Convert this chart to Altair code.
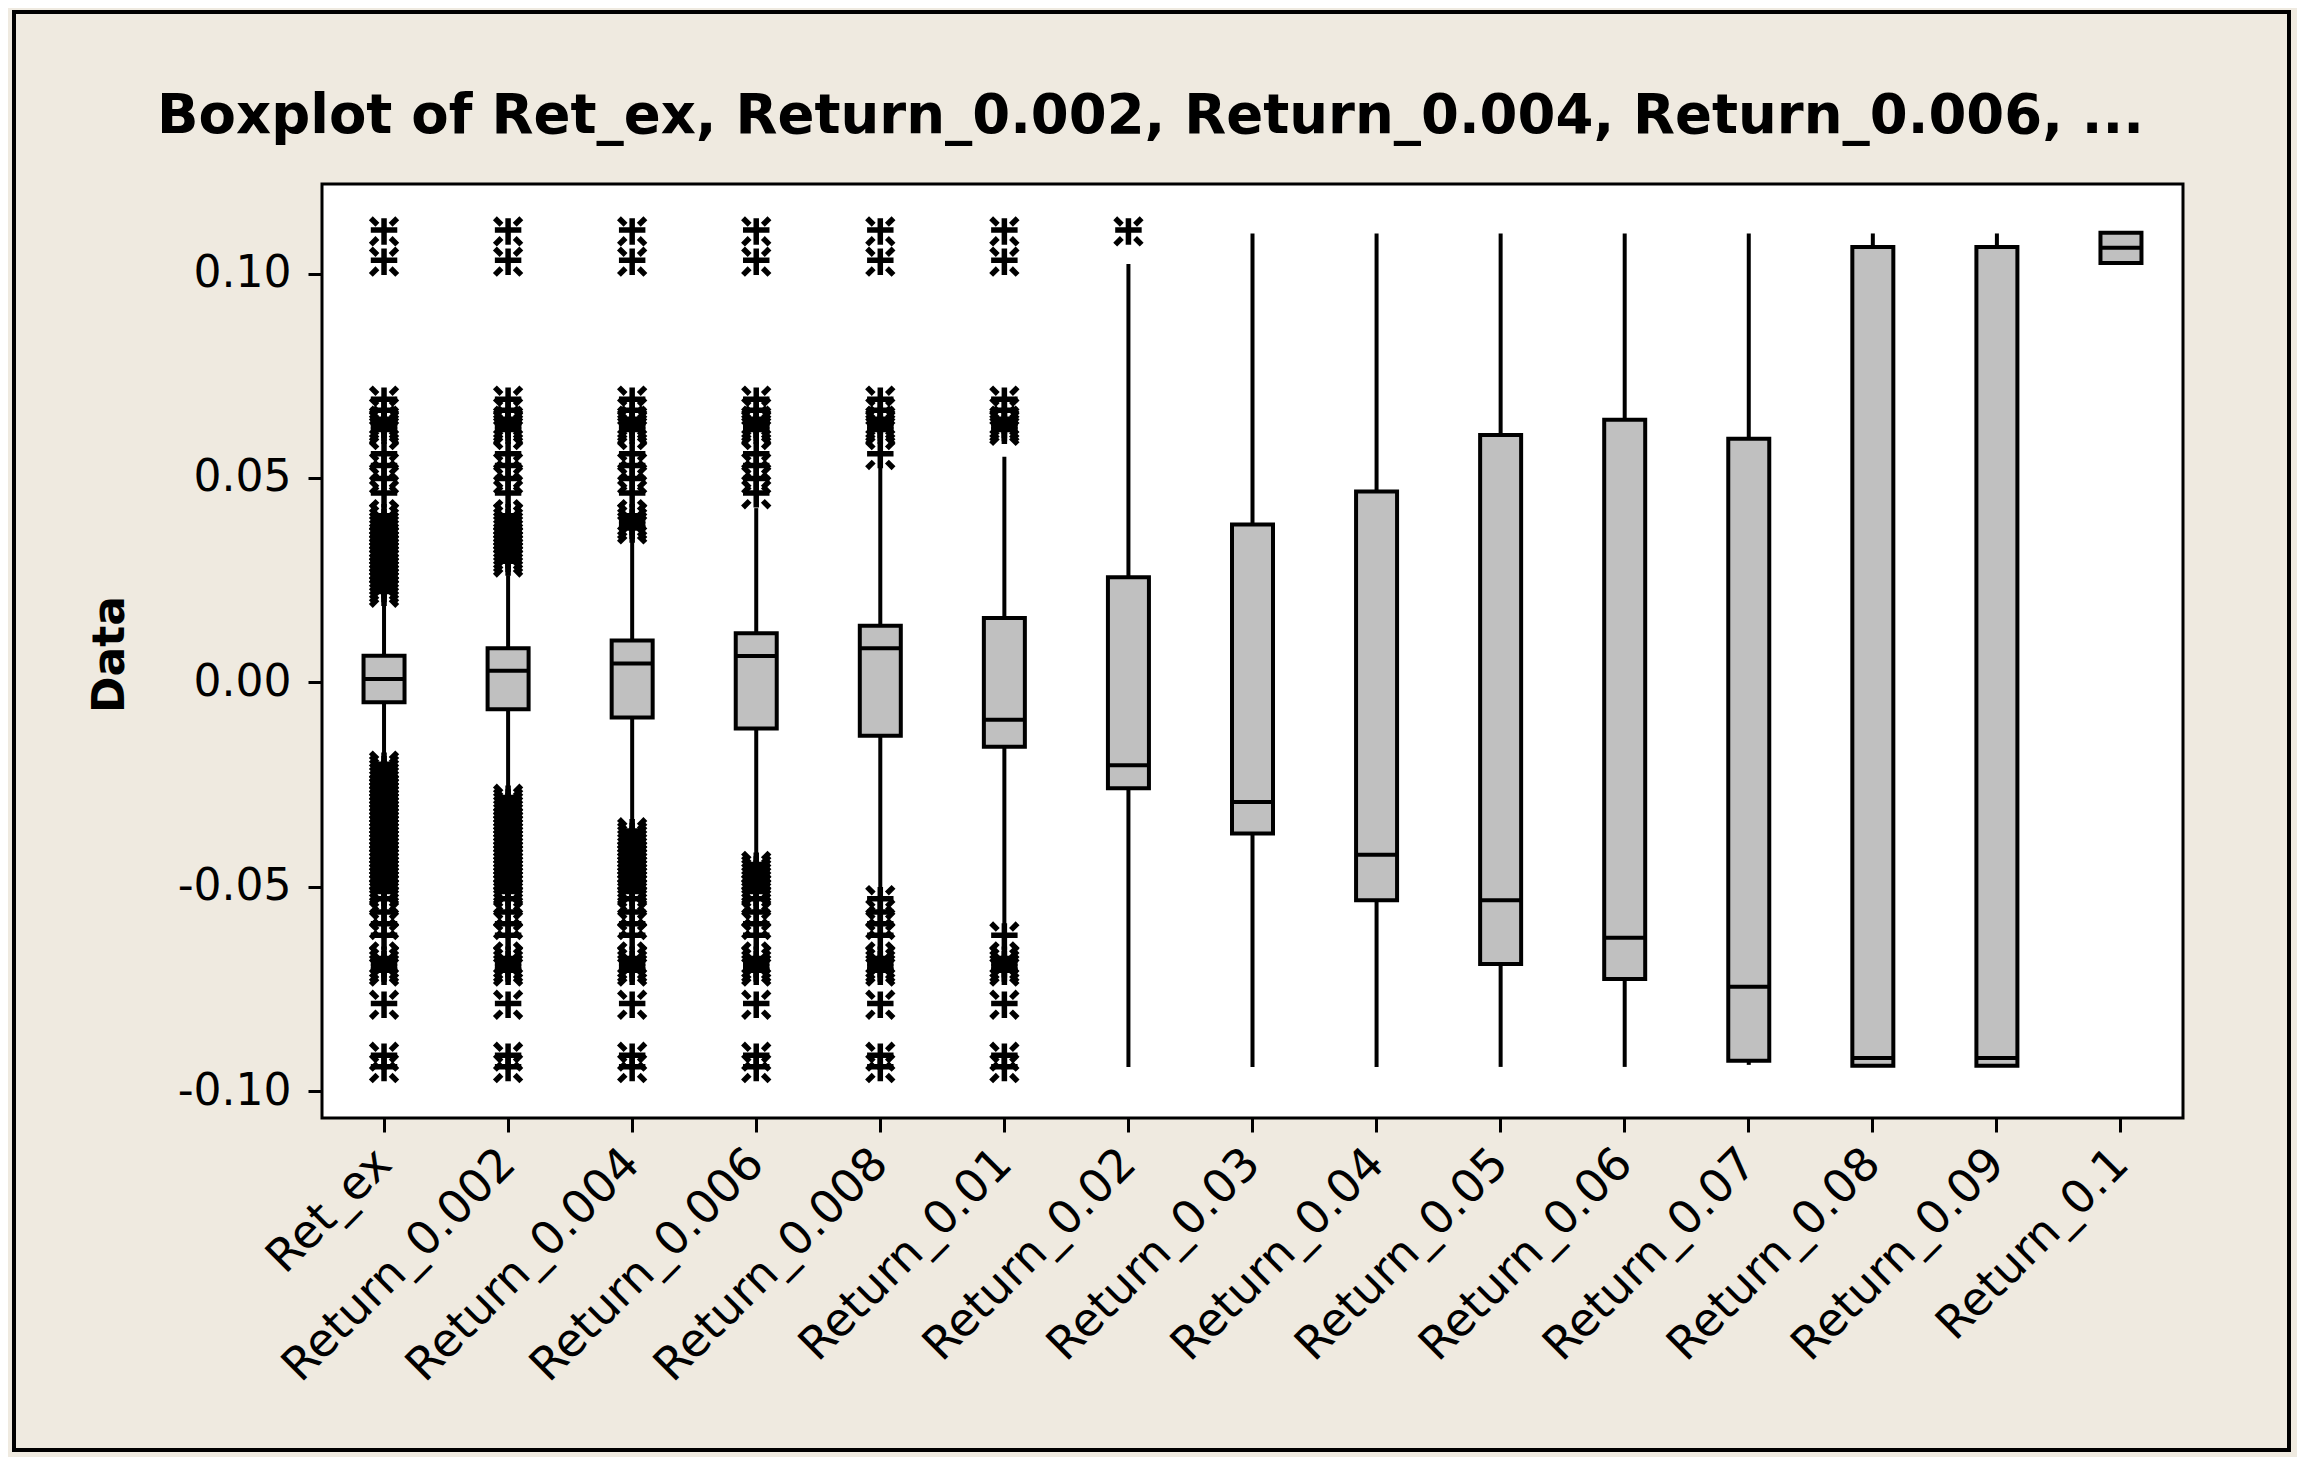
import altair as alt
import pandas as pd

# ---------------- data ----------------
series = ["Ret_ex", "Return_0.002", "Return_0.004", "Return_0.006", "Return_0.008",
          "Return_0.01", "Return_0.02", "Return_0.03", "Return_0.04", "Return_0.05",
          "Return_0.06", "Return_0.07", "Return_0.08", "Return_0.09", "Return_0.1"]
q1 = [-0.0049, -0.0066, -0.0086, -0.0113, -0.0131, -0.0158, -0.0259, -0.0370,
      -0.0533, -0.0689, -0.0726, -0.0926, -0.0938, -0.0938, 0.1026]
median = [0.0008, 0.0028, 0.0046, 0.0064, 0.0083, -0.0092, -0.0203, -0.0293,
          -0.0422, -0.0533, -0.0625, -0.0745, -0.0919, -0.0919, 0.1063]
q3 = [0.0065, 0.0083, 0.0102, 0.0120, 0.0138, 0.0157, 0.0257, 0.0386,
      0.0467, 0.0605, 0.0642, 0.0596, 0.1065, 0.1065, 0.1100]
whisker_lo = [-0.0174, -0.0255, -0.0337, -0.0418, -0.0504, -0.0594, -0.0941, -0.0941,
              -0.0941, -0.0941, -0.0941, -0.0936, -0.0938, -0.0938, 0.1026]
whisker_hi = [0.0193, 0.0262, 0.0348, 0.0426, 0.0527, 0.0552, 0.1023, 0.1098,
              0.1098, 0.1098, 0.1098, 0.1098, 0.1098, 0.1098, 0.1100]

# observed outlying values (asterisks) above / below the boxes
upper_tail = [0.0219, 0.0228, 0.0237, 0.0246, 0.0255, 0.0264, 0.0273, 0.0282, 0.0293,
              0.0302, 0.0311, 0.0320, 0.0329, 0.0338, 0.0347, 0.0356, 0.0365, 0.0374,
              0.0383, 0.0392, 0.0404, 0.0460, 0.0495, 0.0527, 0.0556, 0.0615, 0.0622,
              0.0630, 0.0640, 0.0662, 0.0689, 0.1029, 0.1103]
lower_tail = [-0.0204, -0.0213, -0.0222, -0.0231, -0.0240, -0.0249, -0.0258, -0.0267,
              -0.0276, -0.0285, -0.0294, -0.0303, -0.0312, -0.0321, -0.0330, -0.0339,
              -0.0348, -0.0357, -0.0367, -0.0376, -0.0385, -0.0394, -0.0403, -0.0412,
              -0.0421, -0.0430, -0.0439, -0.0449, -0.0458, -0.0467, -0.0476, -0.0485,
              -0.0494, -0.0503, -0.0515, -0.0533, -0.0565, -0.0594, -0.0622, -0.0679,
              -0.0690, -0.0700, -0.0708, -0.0789, -0.0916, -0.0944]
# first outlying value of each series (None = no outliers on that side)
upper_start = [0.0219, 0.0293, 0.0374, 0.0460, 0.0556, 0.0615, 0.1103,
               None, None, None, None, None, None, None, None]
lower_start = [-0.0204, -0.0285, -0.0367, -0.0449, -0.0533, -0.0622, None,
               None, None, None, None, None, None, None, None]

y_ticks = [0.10, 0.05, 0.00, -0.05, -0.10]
title_text = "Boxplot of Ret_ex, Return_0.002, Return_0.004, Return_0.006, ..."

# ---------------- tables ----------------
box_df = pd.DataFrame({"series": series, "q1": q1, "median": median, "q3": q3,
                       "lo": whisker_lo, "hi": whisker_hi})
rows = []
for s, us, ls in zip(series, upper_start, lower_start):
    if us is not None:
        rows += [{"series": s, "value": v} for v in upper_tail if v >= us]
    if ls is not None:
        rows += [{"series": s, "value": v} for v in lower_tail if v <= ls]
out_df = pd.DataFrame(rows)

# ---------------- styling ----------------
FONT = "DejaVu Sans"
BEIGE = "#EFEAE0"
W, H = 1861, 934
BOXW = 41
LW = 4

xscale = alt.Scale(type="band", domain=series, paddingInner=0, paddingOuter=0)
yscale = alt.Scale(domain=[-0.1066, 0.1219], nice=False, zero=False)

x_enc = alt.X("series:N", sort=series, scale=xscale,
              axis=alt.Axis(title=None, labelAngle=-45, labelAlign="right",
                            labelBaseline="middle", labelFont=FONT, labelFontSize=46,
                            labelColor="black", labelPadding=24, tickSize=14,
                            tickWidth=3, tickColor="black", domain=False,
                            labelOverlap=False, labelLimit=0, zindex=1))
y_axis = alt.Axis(values=y_ticks, title="Data", titleFont=FONT, titleFontSize=44,
                  titleFontWeight="bold", titleColor="black", titleAngle=-90,
                  titleX=-212, titleY=470, titleAlign="center", titleBaseline="middle",
                  labelExpr="replace(format(datum.value, '.2f'), '\u2212', '-')",
                  labelFont=FONT, labelFontSize=44, labelColor="black",
                  labelPadding=17, tickSize=14, tickWidth=3, tickColor="black",
                  grid=False, domain=False, zindex=1)

base = alt.Chart(box_df)

whisk_lo = base.mark_rule(color="black", strokeWidth=LW).encode(
    x=x_enc, y=alt.Y("lo:Q", scale=yscale, axis=y_axis), y2="q1:Q")
whisk_hi = base.mark_rule(color="black", strokeWidth=LW).encode(
    x=alt.X("series:N", sort=series, scale=xscale),
    y=alt.Y("q3:Q", scale=yscale), y2="hi:Q")
boxes = base.mark_bar(size=BOXW, fill="#C0C0C0", stroke="black", strokeWidth=LW).encode(
    x=alt.X("series:N", sort=series, scale=xscale),
    y=alt.Y("q1:Q", scale=yscale), y2="q3:Q")
medians = base.mark_tick(size=BOXW, thickness=LW, color="black", opacity=1).encode(
    x=alt.X("series:N", sort=series, scale=xscale),
    y=alt.Y("median:Q", scale=yscale))

star = ("M0,-1L0,1M-1,-0.1L1,-0.1M-1,-1L-0.5,-0.5M1,-1L0.5,-0.5"
        "M-1,1L-0.5,0.5M1,1L0.5,0.5")
outliers = alt.Chart(out_df).mark_point(shape=star, size=700, filled=False,
                                        stroke="black", strokeWidth=5.5,
                                        opacity=1).encode(
    x=alt.X("series:N", sort=series, scale=xscale),
    y=alt.Y("value:Q", scale=yscale))

frame = alt.Chart(alt.Data(values=[{"f": 1}])).mark_rect(
    fill=None, stroke="black", strokeWidth=4).encode(
    x=alt.value(-308), x2=alt.value(1967), y=alt.value(-172), y2=alt.value(1266))

chart = alt.layer(frame, whisk_lo, whisk_hi, boxes, medians, outliers).properties(
    width=W, height=H,
    title=alt.TitleParams(title_text, font=FONT, fontSize=54.5, fontWeight="bold",
                          color="black", anchor="middle", dx=-102, offset=-177,
                          baseline="alphabetic"),
    autosize=alt.AutoSizeParams(type="none"),
    padding={"left": 314, "top": 176, "right": 114, "bottom": 339},
    background=BEIGE,
).configure_view(fill="white", stroke="black", strokeWidth=3)

chart.save("out.html", embed_options={"renderer": "svg", "actions": False})
